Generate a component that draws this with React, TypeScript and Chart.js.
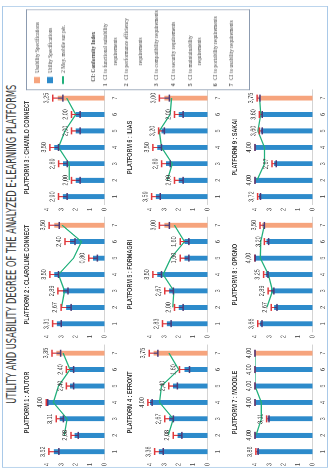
import React, { useEffect, useRef } from 'react';
import { Chart, registerables } from 'chart.js';

Chart.register(...registerables);

// ---------- data ----------
const CATEGORIES = ['1', '2', '3', '4', '5', '6', '7'];
const Y_MIN = 0;
const Y_MAX = 4;
const Y_STEP = 1;

const TITLE = 'UTILITY AND USABILITY DEGREE OF THE ANALYZED E-LEARNING PLATFORMS';
const PLATFORM_NAMES = [
  'PLATFORM 1 : ATUTOR',
  'PLATFORM 2 : CLAROLINE CONNECT',
  'PLATFORM 3 : CHAMILO CONNECT',
  'PLATFORM 4 : EFRONT',
  'PLATFORM 5 : FORMAGRI',
  'PLATFORM 6 : ILIAS',
  'PLATFORM 7 : MOODLE',
  'PLATFORM 8 : OPIGNO',
  'PLATFORM 9 : SAKAI',
];
const SERIES_LABELS = ['Usability Specifications', 'Utility Specifications', '2 Moy. mobile sur pér.'];
const CI_TITLE = 'CI:  Conformity Index';
const CI_ITEMS = [
  ['to functional suitability', 'requirements'],
  ['to performance efficiency', 'requirements'],
  ['to compatibility requirements'],
  ['to security requirements'],
  ['to maintainability', 'requirements'],
  ['to portability requirements'],
  ['to usability requirements'],
];

const P1_VALUES = [3.52, 2.08, 3.11, 4.0, 2.4, 2.4, 3.35];
const P1_ERRORS = [0.35, 0.25, 0.25, 0.05, 0.25, 0.25, 0.3];
const P1_MOVING_AVG = [null, 2.8, 2.6, 3.56, 3.2, 2.4, 2.88];

const P2_VALUES = [3.31, 2.67, 2.89, 3.5, 0.8, 2.4, 3.5];
const P2_ERRORS = [0.3, 0.35, 0.35, 0.3, 0.3, 0.35, 0.35];
const P2_MOVING_AVG = [null, 2.99, 2.78, 3.2, 2.15, 1.6, 2.95];

const P3_VALUES = [2.9, 2.0, 2.89, 3.5, 2.0, 2.0, 3.25];
const P3_ERRORS = [0.3, 0.3, 0.3, 0.3, 0.3, 0.3, 0.35];
const P3_MOVING_AVG = [null, 2.45, 2.45, 3.2, 2.75, 2.0, 2.63];

const P4_VALUES = [3.38, 2.08, 2.67, 4.0, 2.4, 1.6, 3.75];
const P4_ERRORS = [0.3, 0.3, 0.3, 0.15, 0.3, 0.35, 0.3];
const P4_MOVING_AVG = [null, 2.73, 2.38, 3.34, 3.2, 2.0, 2.68];

const P5_VALUES = [2.83, 2.0, 2.67, 3.5, 1.6, 1.6, 3.0];
const P5_ERRORS = [0.3, 0.3, 0.3, 0.3, 0.3, 0.3, 0.35];
const P5_MOVING_AVG = [null, 2.42, 2.34, 3.09, 2.55, 1.6, 2.3];

const P6_VALUES = [3.59, 2.0, 2.89, 3.5, 3.2, 2.0, 3.0];
const P6_ERRORS = [0.3, 0.3, 0.3, 0.3, 0.2, 0.3, 0.35];
const P6_MOVING_AVG = [null, 2.8, 2.45, 3.2, 3.35, 2.6, 2.5];

const P7_VALUES = [3.86, 4.0, 3.11, 4.0, 4.0, 4.0, 4.0];
const P7_ERRORS = [0.08, 0, 0.08, 0, 0, 0, 0];
const P7_MOVING_AVG = [null, 3.93, 3.56, 3.56, 4.0, 4.0, 4.0];

const P8_VALUES = [3.66, 2.67, 2.89, 3.25, 4.0, 3.2, 3.5];
const P8_ERRORS = [0.15, 0.2, 0.2, 0.15, 0.02, 0.15, 0.15];
const P8_MOVING_AVG = [null, 3.17, 2.78, 3.07, 3.63, 3.6, 3.35];

const P9_VALUES = [3.72, 4.0, 2.67, 4.0, 3.6, 3.6, 3.75];
const P9_ERRORS = [0.1, 0, 0.15, 0, 0.1, 0.1, 0.1];
const P9_MOVING_AVG = [null, 3.86, 3.34, 3.34, 3.8, 3.6, 3.68];

const PANELS = [
  { values: P1_VALUES, errors: P1_ERRORS, avg: P1_MOVING_AVG },
  { values: P2_VALUES, errors: P2_ERRORS, avg: P2_MOVING_AVG },
  { values: P3_VALUES, errors: P3_ERRORS, avg: P3_MOVING_AVG },
  { values: P4_VALUES, errors: P4_ERRORS, avg: P4_MOVING_AVG },
  { values: P5_VALUES, errors: P5_ERRORS, avg: P5_MOVING_AVG },
  { values: P6_VALUES, errors: P6_ERRORS, avg: P6_MOVING_AVG },
  { values: P7_VALUES, errors: P7_ERRORS, avg: P7_MOVING_AVG },
  { values: P8_VALUES, errors: P8_ERRORS, avg: P8_MOVING_AVG },
  { values: P9_VALUES, errors: P9_ERRORS, avg: P9_MOVING_AVG },
];

// ---------- style / layout ----------
const SX = 0.78; // horizontal squeeze of the (unrotated) figure
const FIG_W = 608;
const FIG_H = 332;
const FONT = "'Liberation Sans', Arial, sans-serif";
const SERIF = "'Liberation Serif', 'Times New Roman', serif";
const C = {
  utility: '#2d8bcb',
  usability: '#f6a47d',
  avg: '#21b07b',
  errUp: '#e0393c',
  errLow: '#4b3a78',
  text: '#404040',
  tick: '#595959',
  axis: '#d4d4d4',
  frame: '#a9c9e8',
  legendBorder: '#8c9bb0',
};
const CANVAS_W = 169;
const CANVAS_H = 104;
const COL_LEFT = [0, 164, 327];
const ROW_TOP = [17, 120, 225];

const fmt = (v: number) => v.toFixed(2).replace('.', ',');

function Panel({ index }: { index: number }) {
  const ref = useRef<HTMLCanvasElement | null>(null);
  const col = index % 3;
  const row = Math.floor(index / 3);
  useEffect(() => {
    const p = PANELS[index];
    const name = PLATFORM_NAMES[index];
    const overlay = {
      id: 'overlay',
      afterDatasetsDraw(chart: any) {
        const { ctx, chartArea } = chart;
        const xs = chart.scales.x;
        const ys = chart.scales.y;
        ctx.save();
        ctx.fillStyle = C.text;
        ctx.font = `bold 7px ${FONT}`;
        ctx.textAlign = 'center';
        ctx.textBaseline = 'middle';
        ctx.fillText(name, (chartArea.left + chartArea.right) / 2, chartArea.top - 20);
        p.values.forEach((v: number, i: number) => {
          const e = p.errors[i];
          const cx = xs.getPixelForValue(i);
          const yv = ys.getPixelForValue(v);
          const yt = ys.getPixelForValue(v + e);
          const yb = ys.getPixelForValue(v - e);
          const hw = 4.5;
          ctx.lineWidth = 1.5;
          ctx.strokeStyle = C.errUp;
          ctx.beginPath();
          ctx.moveTo(cx, yv);
          ctx.lineTo(cx, yt);
          ctx.moveTo(cx - hw, yt);
          ctx.lineTo(cx + hw, yt);
          ctx.stroke();
          ctx.strokeStyle = C.errLow;
          ctx.beginPath();
          ctx.moveTo(cx, yv);
          ctx.lineTo(cx, yb);
          ctx.moveTo(cx - hw, yb);
          ctx.lineTo(cx + hw, yb);
          ctx.stroke();
          ctx.fillStyle = C.text;
          ctx.font = `7px ${FONT}`;
          ctx.textAlign = 'center';
          ctx.textBaseline = 'bottom';
          ctx.fillText(fmt(v), cx, yt - 2.5);
        });
        ctx.restore();
      },
    };
    const chart = new Chart(ref.current as HTMLCanvasElement, {
      type: 'bar',
      data: {
        labels: CATEGORIES,
        datasets: [
          {
            type: 'line',
            label: SERIES_LABELS[2],
            data: p.avg,
            borderColor: C.avg,
            borderWidth: 1.3,
            pointRadius: 0,
            tension: 0,
            fill: false,
            order: 0,
          } as any,
          {
            type: 'bar',
            label: SERIES_LABELS[1],
            data: p.values.map((v, i) => (i < 6 ? v : null)),
            backgroundColor: C.utility,
            barPercentage: 0.3,
            categoryPercentage: 1,
            skipNull: true,
            order: 1,
          },
          {
            type: 'bar',
            label: SERIES_LABELS[0],
            data: p.values.map((v, i) => (i === 6 ? v : null)),
            backgroundColor: C.usability,
            barPercentage: 0.3,
            categoryPercentage: 1,
            skipNull: true,
            order: 1,
          },
        ],
      },
      options: {
        responsive: false,
        animation: false,
        devicePixelRatio: 2,
        layout: { padding: { top: 30, right: 3.5, left: 0, bottom: 0 } },
        plugins: {
          legend: { display: false },
          tooltip: { enabled: false },
          title: { display: false },
        },
        scales: {
          x: {
            grid: { display: false, drawTicks: false },
            border: { display: true, color: C.axis, width: 1 },
            ticks: { font: { family: FONT, size: 7 }, color: C.tick, padding: 6.5 },
            afterFit: (s: any) => {
              s.height = 16.5;
            },
          },
          y: {
            min: Y_MIN,
            max: Y_MAX,
            grid: { display: false, drawTicks: false },
            border: { display: false },
            ticks: { stepSize: Y_STEP, font: { family: FONT, size: 7 }, color: C.tick, padding: 4 },
            afterFit: (s: any) => {
              s.width = 18;
            },
          },
        },
      } as any,
      plugins: [overlay],
    });
    return () => chart.destroy();
  }, [index]);
  return (
    <canvas
      ref={ref}
      width={CANVAS_W}
      height={CANVAS_H}
      style={{ position: 'absolute', left: COL_LEFT[col], top: ROW_TOP[row] }}
    />
  );
}

const LEG_SERIES_Y = [37, 50, 63];
const CI_ITEM_Y = [
  [105, 115],
  [126, 140],
  [156],
  [173],
  [190, 199],
  [215],
  [231],
];

function Legend() {
  const txt: React.CSSProperties = {
    position: 'absolute',
    fontFamily: SERIF,
    fontSize: 6.8,
    lineHeight: '8px',
    color: C.text,
    whiteSpace: 'nowrap',
  };
  return (
    <>
      <div
        style={{
          position: 'absolute',
          left: 492,
          top: 26,
          width: 104,
          height: 224,
          border: `1px solid ${C.legendBorder}`,
          boxSizing: 'border-box',
          background: '#fff',
        }}
      />
      <div style={{ position: 'absolute', left: 501, top: LEG_SERIES_Y[0] - 3, width: 8, height: 6, background: C.usability }} />
      <div style={{ position: 'absolute', left: 501, top: LEG_SERIES_Y[1] - 3, width: 8, height: 6, background: C.utility }} />
      <div style={{ position: 'absolute', left: 500, top: LEG_SERIES_Y[2] - 0.6, width: 10, height: 1.3, background: C.avg }} />
      {SERIES_LABELS.map((s, i) => (
        <div key={s} style={{ ...txt, left: 514, top: LEG_SERIES_Y[i] - 4 }}>
          {s}
        </div>
      ))}
      <div style={{ ...txt, left: 503, top: 89, fontWeight: 'bold' }}>{CI_TITLE}</div>
      {CI_ITEMS.map((lines, i) => (
        <React.Fragment key={i}>
          <div style={{ ...txt, left: 497, top: CI_ITEM_Y[i][0] - 4, fontWeight: 'bold' }}>{String(i + 1)}</div>
          <div style={{ ...txt, left: 505, top: CI_ITEM_Y[i][0] - 4 }}>CI</div>
          <div style={{ ...txt, left: 514, top: CI_ITEM_Y[i][0] - 4 }}>{lines[0]}</div>
          {lines[1] ? (
            <div style={{ ...txt, left: 524, top: CI_ITEM_Y[i][1] - 4 }}>{lines[1]}</div>
          ) : null}
        </React.Fragment>
      ))}
    </>
  );
}

export default function App() {
  const titleRef = useRef<HTMLSpanElement | null>(null);
  useEffect(() => {
    const el = titleRef.current;
    if (el) {
      const w = el.offsetWidth;
      if (w > 0) el.style.transform = `scaleX(${409 / w})`;
    }
  }, []);
  return (
    <div
      style={{
        position: 'fixed',
        left: 0,
        top: 0,
        width: 332,
        height: 474,
        overflow: 'hidden',
        background: '#fff',
      }}
    >
      <div
        style={{
          position: 'absolute',
          left: 0,
          top: 0,
          width: FIG_W,
          height: FIG_H,
          transformOrigin: '0 0',
          transform: `translate(0px, 474px) rotate(-90deg) scaleX(${SX})`,
          background: '#fff',
        }}
      >
        <div
          style={{
            position: 'absolute',
            left: 8,
            top: 2,
            width: 592,
            height: 326,
            border: `1.5px solid ${C.frame}`,
            boxSizing: 'border-box',
          }}
        />
        <div
          style={{
            position: 'absolute',
            left: 0,
            top: 3,
            width: 590,
            textAlign: 'center',
            lineHeight: '16px',
            whiteSpace: 'nowrap',
          }}
        >
          <span
            ref={titleRef}
            style={{
              display: 'inline-block',
              fontFamily: "'Liberation Sans Narrow', 'DejaVu Sans Condensed', 'Liberation Sans', sans-serif",
              fontSize: 14,
              color: '#3a3a3a',
              transformOrigin: 'center',
            }}
          >
            {TITLE}
          </span>
        </div>
        {PANELS.map((_, i) => (
          <Panel key={i} index={i} />
        ))}
        <Legend />
      </div>
    </div>
  );
}
